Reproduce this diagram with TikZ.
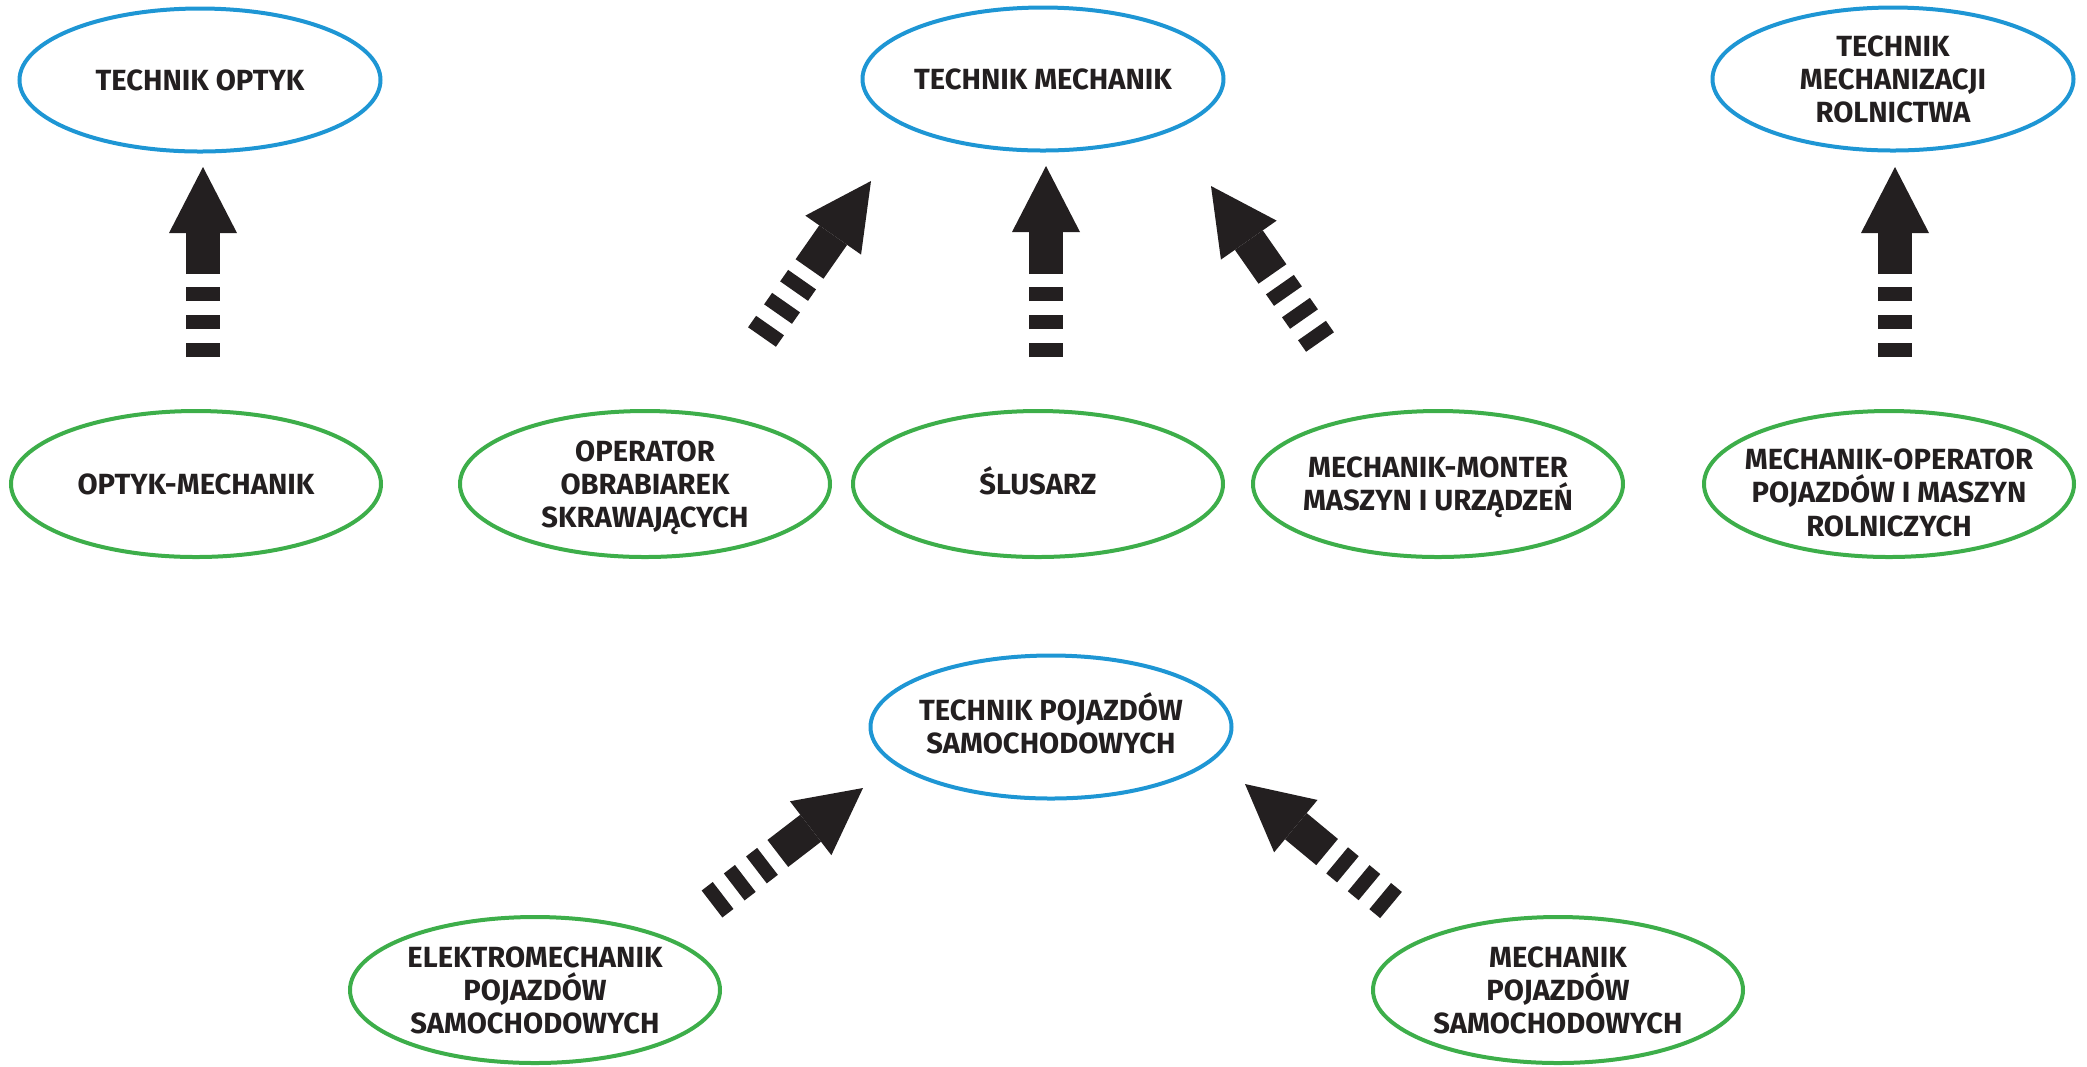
\documentclass[tikz,border=0pt]{standalone}
\usepackage{fontspec}
\setmainfont{Fira Sans}
\usepackage{xcolor}
\definecolor{TechBlue}{HTML}{1E96D4}
\definecolor{ZawGreen}{HTML}{3DAE4A}
\definecolor{ArrBlack}{HTML}{231F20}
\usepackage{tikz}
\usetikzlibrary{shapes.geometric, arrows.meta}

\tikzset{
  technik/.style={ellipse, draw=TechBlue, line width=0.4mm,
    minimum width=36.1mm, minimum height=14.3mm, inner sep=-9mm,
    align=center, text=ArrBlack, font=\bfseries\fontsize{8.3}{9.4}\selectfont,
    text depth=0pt, text height=5.72pt},
  zawod/.style={technik, draw=ZawGreen, minimum width=37mm, minimum height=14.6mm},
  two lines/.style={text height=15.12pt},
  three lines/.style={text height=24.52pt},
  awans/.style={draw=ArrBlack, line width=3.4mm,
    dash pattern=on 1.4mm off 1.4mm on 1.4mm off 1.4mm on 1.4mm off 1.3mm on 30mm,
    -{Triangle[length=6.6mm, width=6.8mm, line width=0pt]}},
}

\begin{document}
\begin{tikzpicture}[x=0.1mm, y=-0.1mm]
  \useasboundingbox (0,0) rectangle (2087,1066);
  % technicy (top)
  \node[technik] (optyk) at (200,80) {TECHNIK OPTYK};
  \node[technik] (mech) at (1043,79) {TECHNIK MECHANIK};
  \node[technik, three lines] (roln) at (1893,79) {TECHNIK\\MECHANIZACJI\\ROLNICTWA};
  % zawody (middle row)
  \node[zawod] (optmech) at (196,484) {OPTYK-MECHANIK};
  \node[zawod, three lines] (operator) at (645,484) {OPERATOR\\OBRABIAREK\\SKRAWAJĄCYCH};
  \node[zawod] (slusarz) at (1038,484) {ŚLUSARZ};
  \node[zawod, two lines] (monter) at (1438,484) {MECHANIK-MONTER\\MASZYN I URZĄDZEŃ};
  \node[zawod, text height=29.6pt] (operroln) at (1889,484) {MECHANIK-OPERATOR\\POJAZDÓW I MASZYN\\ROLNICZYCH};
  % samochody (bottom)
  \node[technik, two lines] (samoch) at (1051,727) {TECHNIK POJAZDÓW\\SAMOCHODOWYCH};
  \node[zawod, three lines] (elektro) at (535,990) {ELEKTROMECHANIK\\POJAZDÓW\\SAMOCHODOWYCH};
  \node[zawod, three lines] (mechpoj) at (1558,990) {MECHANIK\\POJAZDÓW\\SAMOCHODOWYCH};
  % arrows: name / tail / tip
  \foreach \name/\tx/\ty/\hx/\hy in {a1/203/357/203/167, a2/762/337/871/181,
      a3/1046/357/1046/166, a4/1320/342/1211/186, a5/1895/357/1895/167,
      a6/712/904/863/788, a7/1391/905/1245/784} {
    \coordinate (\name-tail) at (\tx,\ty);
    \coordinate (\name-tip) at (\hx,\hy);
    \draw[awans] (\name-tail) -- (\name-tip);
  }
\end{tikzpicture}
\end{document}
